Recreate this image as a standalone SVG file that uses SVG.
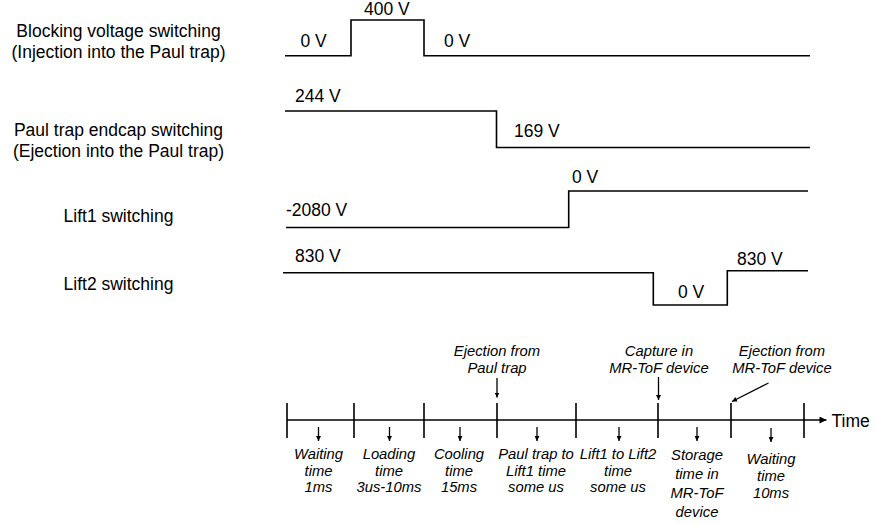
<svg xmlns="http://www.w3.org/2000/svg" width="876" height="524" viewBox="0 0 876 524">
<style>
text{font-family:"Liberation Sans",Arial,sans-serif;fill:#000}
.lbl{font-size:17.5px;text-anchor:middle}
.val{font-size:17.5px}
.it{font-size:14.8px;font-style:italic;text-anchor:middle}
.sig{fill:none;stroke:#000;stroke-width:1.6}
.tl{fill:none;stroke:#000;stroke-width:1.6}
.ar{fill:none;stroke:#000;stroke-width:1.3}
</style>
<defs>
<marker id="ah" viewBox="0 0 10 10" refX="10" refY="5" markerWidth="5" markerHeight="5" markerUnits="userSpaceOnUse" orient="auto"><path d="M0,0 L10,5 L0,10 Z" fill="#000"/></marker>
<marker id="ahl" viewBox="0 0 10 10" refX="10" refY="5" markerWidth="8" markerHeight="7" markerUnits="userSpaceOnUse" orient="auto"><path d="M0,0 L10,5 L0,10 Z" fill="#000"/></marker>
</defs>
<rect width="876" height="524" fill="#fff"/>

<g id="label-blocking">
<text class="lbl" x="118.5" y="37">Blocking voltage switching</text>
<text class="lbl" x="118.5" y="58">(Injection into the Paul trap)</text>
</g>
<g id="label-endcap">
<text class="lbl" x="118.5" y="136">Paul trap endcap switching</text>
<text class="lbl" x="118.5" y="157">(Ejection into the Paul trap)</text>
</g>
<g id="label-lift1"><text class="lbl" x="118.5" y="222">Lift1 switching</text></g>
<g id="label-lift2"><text class="lbl" x="118.5" y="290">Lift2 switching</text></g>

<g id="signal-blocking">
<path class="sig" d="M285,55.7 H351 V20 H424 V55.7 H810"/>
<text class="val" x="300.5" y="47">0 V</text>
<text class="val" x="364" y="14.5">400 V</text>
<text class="val" x="444" y="47">0 V</text>
</g>
<g id="signal-endcap">
<path class="sig" d="M285,111 H496.5 V147.5 H810"/>
<text class="val" x="295" y="101.5">244 V</text>
<text class="val" x="514" y="137">169 V</text>
</g>
<g id="signal-lift1">
<path class="sig" d="M286,227.5 H568.7 V191 H808"/>
<text class="val" x="286" y="216">-2080 V</text>
<text class="val" x="572" y="182.5">0 V</text>
</g>
<g id="signal-lift2">
<path class="sig" d="M283,272.7 H653.3 V305 H727.3 V270.7 H808"/>
<text class="val" x="295" y="262">830 V</text>
<text class="val" x="678" y="297.5">0 V</text>
<text class="val" x="737" y="265">830 V</text>
</g>

<g id="timeline">
<path class="tl" d="M287,403 V438 M354,403 V438 M424,403 V438 M497,403 V438 M576,403 V438 M658,403 V438 M731,403 V438 M804,403 V438"/>
<text class="val" x="831.5" y="426.5">Time</text>
</g>

<g id="event-ejection-paul">
<text class="it" x="497" y="355.5">Ejection from</text>
<text class="it" x="497" y="372.5">Paul trap</text>
</g>
<g id="event-capture">
<text class="it" x="659" y="355.5">Capture in</text>
<text class="it" x="659" y="372.5">MR-ToF device</text>
</g>
<g id="event-ejection-mrtof">
<text class="it" x="782" y="355.5">Ejection from</text>
<text class="it" x="782" y="372.5">MR-ToF device</text>
</g>

<g id="interval-1"><text class="it" x="318.5" y="459">Waiting</text><text class="it" x="318.5" y="475.5">time</text><text class="it" x="318.5" y="492">1ms</text></g>
<g id="interval-2"><text class="it" x="389" y="459">Loading</text><text class="it" x="389" y="475.5">time</text><text class="it" x="389" y="492">3us-10ms</text></g>
<g id="interval-3"><text class="it" x="459" y="459">Cooling</text><text class="it" x="459" y="475.5">time</text><text class="it" x="459" y="492">15ms</text></g>
<g id="interval-4"><text class="it" x="536" y="459">Paul trap to</text><text class="it" x="536" y="475.5">Lift1 time</text><text class="it" x="536" y="492">some us</text></g>
<g id="interval-5"><text class="it" x="618" y="459">Lift1 to Lift2</text><text class="it" x="618" y="475.5">time</text><text class="it" x="618" y="492">some us</text></g>
<g id="interval-6"><text class="it" x="697" y="460">Storage</text><text class="it" x="697" y="479">time in</text><text class="it" x="697" y="498">MR-ToF</text><text class="it" x="697" y="517">device</text></g>
<g id="interval-7"><text class="it" x="771" y="464">Waiting</text><text class="it" x="771" y="481">time</text><text class="it" x="771" y="498">10ms</text></g>

<g id="connectors">
<path class="tl" d="M287,420 H826.5" marker-end="url(#ahl)"/>
<path class="ar" d="M497,378 V397.5" marker-end="url(#ah)"/>
<path class="ar" d="M658.5,377 V400" marker-end="url(#ah)"/>
<path class="ar" d="M768.5,383 L732,401.5" marker-end="url(#ah)"/>
<path class="ar" d="M318.5,427 V441" marker-end="url(#ah)"/>
<path class="ar" d="M389.5,427 V441" marker-end="url(#ah)"/>
<path class="ar" d="M460,427 V441" marker-end="url(#ah)"/>
<path class="ar" d="M537,427 V441" marker-end="url(#ah)"/>
<path class="ar" d="M619,427 V441" marker-end="url(#ah)"/>
<path class="ar" d="M697,427 V441" marker-end="url(#ah)"/>
<path class="ar" d="M771,428 V442" marker-end="url(#ah)"/>
</g>
</svg>
